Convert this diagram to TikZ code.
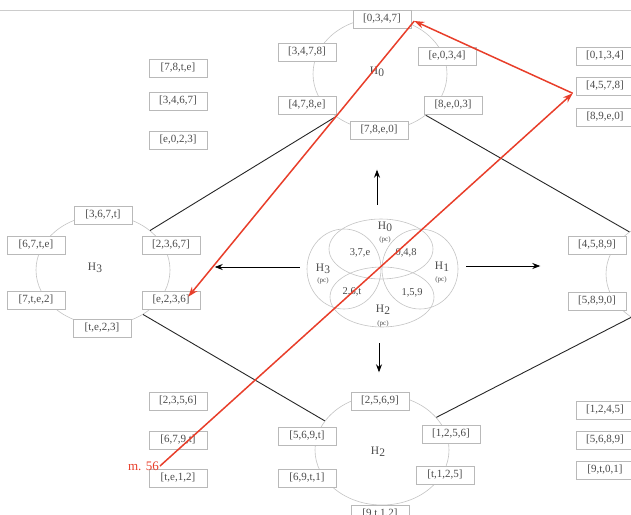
\documentclass[tikz,border=0pt]{standalone}
\usepackage{fontspec}
\setmainfont{Liberation Serif}
\usetikzlibrary{shapes.geometric,arrows.meta,calc}

\definecolor{boxline}{RGB}{185,185,185}
\definecolor{ringline}{RGB}{195,195,195}
\definecolor{labtext}{RGB}{75,75,75}
\definecolor{moveline}{RGB}{232,62,42}

\tikzset{
  tbox/.style={draw=boxline, fill=white, line width=0.6pt, minimum width=58pt,
    minimum height=18pt, inner sep=0pt, text=labtext, font=\fontsize{11}{12}\selectfont},
  ring/.style={draw=ringline, ellipse, line width=0.6pt, minimum width=134pt,
    minimum height=110pt, inner sep=0pt},
  petal/.style={draw=ringline, ellipse, line width=0.6pt, inner sep=0pt},
  hlab/.style={text=labtext, font=\fontsize{11.5}{12}\selectfont, inner sep=0pt},
  pclab/.style={text=labtext, font=\fontsize{7}{8}\selectfont, inner sep=0pt},
  setlab/.style={text=labtext, font=\fontsize{10.5}{11}\selectfont, inner sep=0pt},
  link/.style={draw=black!85, line width=0.9pt},
  dirarrow/.style={-{Stealth[length=8pt,width=6pt]}, line width=0.8pt},
  movearrow/.style={draw=moveline, line width=1.5pt, -{Stealth[length=10pt,width=7pt]}},
}

\newcommand{\hsub}[1]{H\raisebox{-0.45ex}{#1}}

\begin{document}
\begin{tikzpicture}[x=1pt,y=-1pt]
  \useasboundingbox (0,0) rectangle (631,514);
  \clip (0,0) rectangle (631,514);

  % page rule
  \draw[black!20, line width=0.5pt] (0,10) -- (631,10);

  % Hexatonic rings
  \node[ring, minimum height=112pt] (h0) at (380,74) {};
  \node[ring] (h1) at (673,274) {};
  \node[ring] (h2) at (382,450) {};
  \node[ring] (h3) at (103,270) {};

  % Links between rings
  \draw[link] (h0.-136) -- (h3.40);
  \draw[link] (h0.-42) -- (h1.136);
  \draw[link] (h3.-48) -- (h2.153);
  \draw[link] (h2.31) -- (h1.-134);

  % Chord boxes
  \foreach \nm/\x/\y/\txt in {
      b0347/382/19/{[0,3,4,7]}, b3478/307/52/{[3,4,7,8]}, be034/447/56/{[e,0,3,4]},
      b478e/307/105/{[4,7,8,e]}, b8e03/453/105/{[8,e,0,3]}, b78e0/379/130/{[7,8,e,0]},
      b78te/178/68/{[7,8,t,e]}, b3467/178/101/{[3,4,6,7]}, be023/178/140/{[e,0,2,3]},
      b0134/605/56/{[0,1,3,4]}, b4578/605/86/{[4,5,7,8]}, b89e0/605/117/{[8,9,e,0]},
      b367t/103/215/{[3,6,7,t]}, b67te/36/245/{[6,7,t,e]}, b2367/171/245/{[2,3,6,7]},
      b7te2/36/300/{[7,t,e,2]}, be236/171/300/{[e,2,3,6]}, bte23/102/328/{[t,e,2,3]},
      b4589/597/245/{[4,5,8,9]}, b5890/597/301/{[5,8,9,0]},
      b2569/380/401/{[2,5,6,9]}, b569t/307/436/{[5,6,9,t]}, b1256/451/434/{[1,2,5,6]},
      b69t1/307/478/{[6,9,t,1]}, bt125/445/475/{[t,1,2,5]}, b9t12/380/514/{[9,t,1,2]},
      b2356/178/401/{[2,3,5,6]}, b679t/178/440/{[6,7,9,t]}, bte12/178/478/{[t,e,1,2]},
      b1245/605/410/{[1,2,4,5]}, b5689/605/440/{[5,6,8,9]}, b9t01/605/470/{[9,t,0,1]}} {
    \node[tbox] (\nm) at (\x,\y) {\txt};
  }

  % Ring names
  \node[hlab] (h0lab) at (377,72) {\hsub{0}};
  \node[hlab] (h2lab) at (378,452) {\hsub{2}};
  \node[hlab] (h3lab) at (95,268) {\hsub{3}};

  % Central petals
  \node[petal, minimum width=104pt, minimum height=60pt] (pc0) at (381,249) {};
  \node[petal, minimum width=76pt, minimum height=80pt] (pc1) at (420,269) {};
  \node[petal, minimum width=104pt, minimum height=60pt] (pc2) at (382,297) {};
  \node[petal, minimum width=74pt, minimum height=80pt] (pc3) at (344,269) {};

  \node[hlab] (pc0h) at (385,227) {\hsub{0}};
  \node[pclab] (pc0p) at (385,240) {(pc)};
  \node[hlab] (pc1h) at (442,267) {\hsub{1}};
  \node[pclab] (pc1p) at (441,280) {(pc)};
  \node[hlab] (pc2h) at (383,310) {\hsub{2}};
  \node[pclab] (pc2p) at (383,324) {(pc)};
  \node[hlab] (pc3h) at (323,269) {\hsub{3}};
  \node[pclab] (pc3p) at (323,281) {(pc)};

  \node[setlab] (s37e) at (360,253) {3,7,e};
  \node[setlab] (s048) at (406,253) {0,4,8};
  \node[setlab] (s26t) at (352,292) {2,6,t};
  \node[setlab] (s159) at (412,293) {1,5,9};

  % Direction arrows
  \draw[dirarrow] ($(pc0.north)+(-4,-14)$) -- ($(pc0.north)+(-4,-49)$);
  \draw[dirarrow] ($(pc3.west)+(-7,-2)$) -- ($(pc3.west)+(-92,-2)$);
  \draw[dirarrow] ($(pc1.east)+(8,-3)$) -- ($(pc1.east)+(82,-3)$);
  \draw[dirarrow] ($(pc2.south)+(-3,16)$) -- ($(pc2.south)+(-3,45)$);

  % Voice-leading path
  \node[anchor=east, text=moveline, font=\fontsize{13}{14}\selectfont, inner sep=1pt]
    (m56lab) at (160,466) {m. 56};
  \draw[movearrow] (m56lab.east) -- ($(b4578.south west)+(-3,-2)$);
  \draw[movearrow] ($(b4578.south west)+(-3,-2)$) -- ($(b0347.east)+(3,2)$);
  \draw[movearrow] ($(b0347.east)+(3,2)$) -- ($(be236.north east)+(-12,6)$);
\end{tikzpicture}
\end{document}
